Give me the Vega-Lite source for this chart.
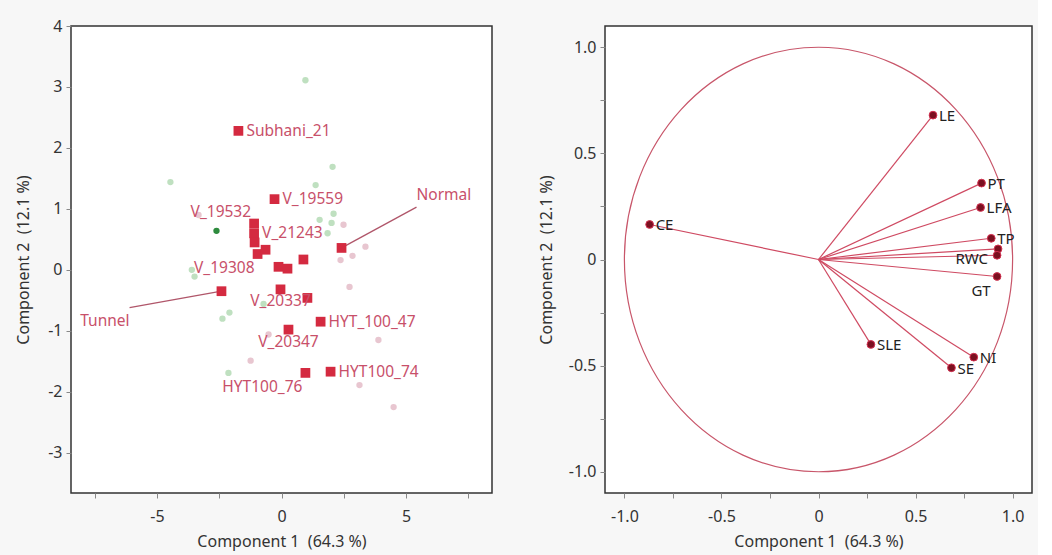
{
  "$schema": "https://vega.github.io/schema/vega-lite/v6.json",
  "background": "#f7f7f7",
  "padding": {"left": 14, "top": 17, "right": 5, "bottom": 5},
  "spacing": 44,
  "config": {
    "font": "Noto Sans",
    "view": {"fill": "white", "stroke": "#333", "strokeWidth": 1.5},
    "axis": {"grid": false, "domain": false, "tickColor": "#888", "tickSize": 5, "labelFontSize": 16, "labelColor": "#333", "labelPadding": 4, "titleFontSize": 16, "titleColor": "#333", "titleFontWeight": "normal"}
  },
  "datasets": {
    "origin": [{"pc1": 0, "pc2": 0}],
    "obs": [
      {"pc1": 0.96, "pc2": 3.11, "grp": "G1"},
      {"pc1": -4.46, "pc2": 1.44, "grp": "G1"},
      {"pc1": 2.05, "pc2": 1.69, "grp": "G1"},
      {"pc1": 1.37, "pc2": 1.39, "grp": "G1"},
      {"pc1": 2.09, "pc2": 0.92, "grp": "G1"},
      {"pc1": 1.53, "pc2": 0.82, "grp": "G1"},
      {"pc1": 2.01, "pc2": 0.77, "grp": "G1"},
      {"pc1": 1.85, "pc2": 0.6, "grp": "G1"},
      {"pc1": -3.49, "pc2": -0.11, "grp": "G1"},
      {"pc1": -3.6, "pc2": 0.0, "grp": "G1"},
      {"pc1": -2.37, "pc2": -0.8, "grp": "G1"},
      {"pc1": -2.09, "pc2": -0.7, "grp": "G1"},
      {"pc1": -2.13, "pc2": -1.69, "grp": "G1"},
      {"pc1": -0.72, "pc2": -0.56, "grp": "G1"},
      {"pc1": -2.61, "pc2": 0.64, "grp": "G3"},
      {"pc1": 2.49, "pc2": 0.74, "grp": "G2"},
      {"pc1": 3.37, "pc2": 0.38, "grp": "G2"},
      {"pc1": 2.85, "pc2": 0.23, "grp": "G2"},
      {"pc1": 2.37, "pc2": 0.16, "grp": "G2"},
      {"pc1": 2.73, "pc2": -0.28, "grp": "G2"},
      {"pc1": 3.89, "pc2": -1.15, "grp": "G2"},
      {"pc1": 3.13, "pc2": -1.89, "grp": "G2"},
      {"pc1": 4.5, "pc2": -2.25, "grp": "G2"},
      {"pc1": -1.24, "pc2": -1.49, "grp": "G2"},
      {"pc1": -0.52, "pc2": -1.06, "grp": "G2"},
      {"pc1": -3.33, "pc2": 0.9, "grp": "G2"}
    ],
    "geno": [
      {"name": "Subhani_21", "pc1": -1.73, "pc2": 2.28, "pos": "r"},
      {"name": "V_19559", "pc1": -0.28, "pc2": 1.16, "pos": "r"},
      {"name": "V_19532", "pc1": -1.1, "pc2": 0.76, "pos": "al"},
      {"name": "V_21243", "pc1": -1.1, "pc2": 0.6, "pos": "r"},
      {"name": "G05", "pc1": -1.08, "pc2": 0.45, "pos": "none"},
      {"name": "V_19308", "pc1": -0.96, "pc2": 0.26, "pos": "bl"},
      {"name": "G07", "pc1": -0.64, "pc2": 0.33, "pos": "none"},
      {"name": "G08", "pc1": -0.12, "pc2": 0.05, "pos": "none"},
      {"name": "G09", "pc1": 0.24, "pc2": 0.02, "pos": "none"},
      {"name": "G10", "pc1": 0.88, "pc2": 0.17, "pos": "none"},
      {"name": "Normal", "pc1": 2.41, "pc2": 0.36, "pos": "callout"},
      {"name": "Tunnel", "pc1": -2.41, "pc2": -0.35, "pos": "callout"},
      {"name": "V_20337", "pc1": -0.04, "pc2": -0.32, "pos": "b"},
      {"name": "G14", "pc1": 1.04, "pc2": -0.46, "pos": "none"},
      {"name": "HYT_100_47", "pc1": 1.57, "pc2": -0.85, "pos": "r"},
      {"name": "V_20347", "pc1": 0.28, "pc2": -0.98, "pos": "b"},
      {"name": "HYT100_76", "pc1": 0.96, "pc2": -1.69, "pos": "bl"},
      {"name": "HYT100_74", "pc1": 1.97, "pc2": -1.67, "pos": "r"}
    ],
    "callouts": [
      {"name": "Normal", "pc1": 2.41, "pc2": 0.36, "lx": 5.42, "ly": 1.03, "side": "up"},
      {"name": "Tunnel", "pc1": -2.41, "pc2": -0.35, "lx": -6.1, "ly": -0.62, "side": "down"}
    ],
    "loadings": [
      {"var": "LE", "pc1": 0.59, "pc2": 0.68, "pos": "r"},
      {"var": "PT", "pc1": 0.84, "pc2": 0.36, "pos": "r"},
      {"var": "LFA", "pc1": 0.835, "pc2": 0.245, "pos": "r"},
      {"var": "TP", "pc1": 0.89, "pc2": 0.1, "pos": "r"},
      {"var": "", "pc1": 0.925, "pc2": 0.05, "pos": "none"},
      {"var": "RWC", "pc1": 0.92, "pc2": 0.02, "pos": "l"},
      {"var": "GT", "pc1": 0.92, "pc2": -0.08, "pos": "bl"},
      {"var": "CE", "pc1": -0.87, "pc2": 0.165, "pos": "r"},
      {"var": "SLE", "pc1": 0.27, "pc2": -0.4, "pos": "r"},
      {"var": "NI", "pc1": 0.8, "pc2": -0.46, "pos": "r"},
      {"var": "SE", "pc1": 0.685, "pc2": -0.51, "pos": "r"}
    ]
  },
  "hconcat": [
    {
      "width": 421,
      "height": 467,
      "encoding": {
        "x": {"type": "quantitative", "scale": {"domain": [-8.45, 8.45], "nice": false, "zero": false},
          "axis": {"values": [-7.5, -5, -2.5, 0, 2.5, 5, 7.5], "labelExpr": "datum.value % 5 === 0 ? '' + datum.value : ''", "title": "Component 1\u00a0 (64.3 %)", "labelPadding": 10, "titlePadding": 9}},
        "y": {"type": "quantitative", "scale": {"domain": [-3.66, 4], "nice": false, "zero": false},
          "axis": {"values": [-3, -2, -1, 0, 1, 2, 3, 4], "labelExpr": "'' + datum.value", "title": "Component 2\u00a0 (12.1 %)", "titlePadding": 16}}
      },
      "layer": [
        {"mark": {"type": "rule", "color": "#8e3344", "strokeDash": [2, 3], "strokeWidth": 1.3}, "encoding": {"x": {"datum": 0, "type": "quantitative"}}},
        {"mark": {"type": "rule", "color": "#8e3344", "strokeDash": [2, 3], "strokeWidth": 1.3}, "encoding": {"y": {"datum": 0, "type": "quantitative"}}},
        {"data": {"name": "obs"}, "mark": {"type": "circle", "size": 40, "opacity": 1},
          "encoding": {"x": {"field": "pc1"}, "y": {"field": "pc2"},
            "color": {"field": "grp", "type": "nominal", "legend": null, "scale": {"domain": ["G1", "G2", "G3"], "range": ["#bfe0c0", "#e8c6d0", "#2e8b3e"]}}}},
        {"data": {"name": "callouts"}, "mark": {"type": "rule", "color": "#b0566a", "strokeWidth": 1.3},
          "encoding": {"x": {"field": "pc1"}, "y": {"field": "pc2"}, "x2": {"field": "lx"}, "y2": {"field": "ly"}}},
        {"data": {"name": "geno"}, "mark": {"type": "square", "size": 95, "filled": true, "color": "#d42a40", "opacity": 1},
          "encoding": {"x": {"field": "pc1"}, "y": {"field": "pc2"}}},
        {"data": {"name": "geno"}, "transform": [{"filter": "datum.pos === 'r'"}],
          "mark": {"type": "text", "align": "left", "baseline": "middle", "dx": 8, "fontSize": 15.5, "color": "#c8506a"},
          "encoding": {"x": {"field": "pc1"}, "y": {"field": "pc2"}, "text": {"field": "name"}}},
        {"data": {"name": "geno"}, "transform": [{"filter": "datum.pos === 'al'"}],
          "mark": {"type": "text", "align": "right", "baseline": "middle", "dx": -3, "dy": -12, "fontSize": 15.5, "color": "#c8506a"},
          "encoding": {"x": {"field": "pc1"}, "y": {"field": "pc2"}, "text": {"field": "name"}}},
        {"data": {"name": "geno"}, "transform": [{"filter": "datum.pos === 'bl'"}],
          "mark": {"type": "text", "align": "right", "baseline": "middle", "dx": -3, "dy": 14, "fontSize": 15.5, "color": "#c8506a"},
          "encoding": {"x": {"field": "pc1"}, "y": {"field": "pc2"}, "text": {"field": "name"}}},
        {"data": {"name": "geno"}, "transform": [{"filter": "datum.pos === 'b'"}],
          "mark": {"type": "text", "align": "center", "baseline": "middle", "dy": 12, "fontSize": 15.5, "color": "#c8506a"},
          "encoding": {"x": {"field": "pc1"}, "y": {"field": "pc2"}, "text": {"field": "name"}}},
        {"data": {"name": "callouts"}, "transform": [{"filter": "datum.side === 'up'"}],
          "mark": {"type": "text", "align": "left", "baseline": "middle", "dy": -12, "fontSize": 15.5, "color": "#c8506a"},
          "encoding": {"x": {"field": "lx"}, "y": {"field": "ly"}, "text": {"field": "name"}}},
        {"data": {"name": "callouts"}, "transform": [{"filter": "datum.side === 'down'"}],
          "mark": {"type": "text", "align": "right", "baseline": "middle", "dy": 13, "fontSize": 15.5, "color": "#c8506a"},
          "encoding": {"x": {"field": "lx"}, "y": {"field": "ly"}, "text": {"field": "name"}}}
      ]
    },
    {
      "width": 427,
      "height": 467,
      "encoding": {
        "x": {"type": "quantitative", "scale": {"domain": [-1.1, 1.1], "nice": false, "zero": false},
          "axis": {"values": [-1, -0.75, -0.5, -0.25, 0, 0.25, 0.5, 0.75, 1], "labelExpr": "datum.value === 0 ? '0' : (abs(datum.value * 2 - round(datum.value * 2)) < 0.001 ? replace(format(datum.value, '.1f'), '\u2212', '-') : '')", "title": "Component 1\u00a0 (64.3 %)", "labelPadding": 10, "titlePadding": 9}},
        "y": {"type": "quantitative", "scale": {"domain": [-1.1, 1.1], "nice": false, "zero": false},
          "axis": {"values": [-1, -0.75, -0.5, -0.25, 0, 0.25, 0.5, 0.75, 1], "labelExpr": "datum.value === 0 ? '0' : (abs(datum.value * 2 - round(datum.value * 2)) < 0.001 ? replace(format(datum.value, '.1f'), '\u2212', '-') : '')", "title": "Component 2\u00a0 (12.1 %)", "titlePadding": 14}}
      },
      "layer": [
        {"mark": {"type": "rule", "color": "#b04050", "strokeDash": [2, 3], "strokeWidth": 1.2}, "encoding": {"x": {"datum": 0, "type": "quantitative"}}},
        {"mark": {"type": "rule", "color": "#c8304a", "strokeDash": [2, 3], "strokeWidth": 1.2}, "encoding": {"y": {"datum": 0, "type": "quantitative"}}},
        {"data": {"name": "origin"}, "mark": {"type": "point", "shape": "M -0.9144 0 C -0.9144 -0.5523 -0.505 -1 0 -1 C 0.505 -1 0.9144 -0.5523 0.9144 0 C 0.9144 0.5523 0.505 1 0 1 C -0.505 1 -0.9144 0.5523 -0.9144 0 Z", "size": 180235, "filled": false, "color": "#c8566a", "strokeWidth": 1.2, "opacity": 1},
          "encoding": {"x": {"field": "pc1"}, "y": {"field": "pc2"}}},
        {"data": {"name": "loadings"}, "mark": {"type": "rule", "color": "#cf4a62", "strokeWidth": 1.2},
          "encoding": {"x": {"field": "pc1"}, "y": {"field": "pc2"}, "x2": {"datum": 0}, "y2": {"datum": 0}}},
        {"data": {"name": "loadings"}, "mark": {"type": "circle", "size": 60, "fill": "#7b1020", "stroke": "#d43050", "strokeWidth": 1, "opacity": 1},
          "encoding": {"x": {"field": "pc1"}, "y": {"field": "pc2"}}},
        {"data": {"name": "loadings"}, "transform": [{"filter": "datum.pos === 'r'"}],
          "mark": {"type": "text", "align": "left", "baseline": "middle", "dx": 6, "dy": 1, "fontSize": 15, "color": "#222"},
          "encoding": {"x": {"field": "pc1"}, "y": {"field": "pc2"}, "text": {"field": "var"}}},
        {"data": {"name": "loadings"}, "transform": [{"filter": "datum.pos === 'l'"}],
          "mark": {"type": "text", "align": "right", "baseline": "middle", "dx": -9, "dy": 4, "fontSize": 15, "color": "#222"},
          "encoding": {"x": {"field": "pc1"}, "y": {"field": "pc2"}, "text": {"field": "var"}}},
        {"data": {"name": "loadings"}, "transform": [{"filter": "datum.pos === 'bl'"}],
          "mark": {"type": "text", "align": "center", "baseline": "middle", "dx": -16, "dy": 15, "fontSize": 15, "color": "#222"},
          "encoding": {"x": {"field": "pc1"}, "y": {"field": "pc2"}, "text": {"field": "var"}}}
      ]
    }
  ]
}
